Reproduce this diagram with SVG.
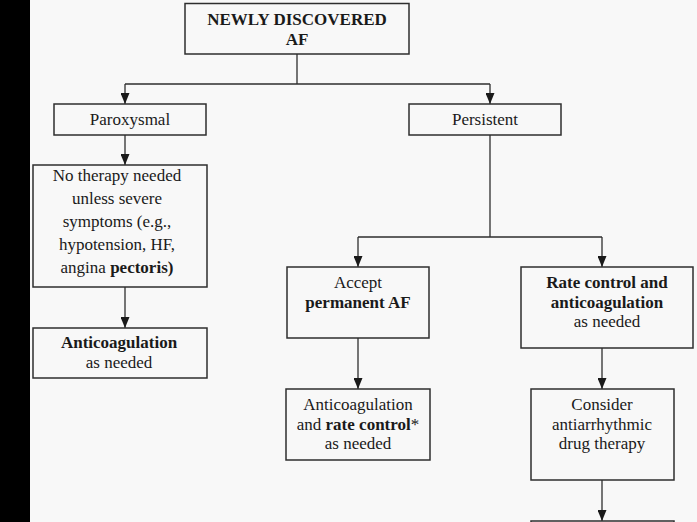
<svg xmlns="http://www.w3.org/2000/svg" width="697" height="522" viewBox="0 0 697 522">
  <style>
    .box { fill: none; stroke: #2e2e2e; stroke-width: 1.5; }
    .t { font-family: 'Liberation Serif', 'DejaVu Serif', serif; font-size: 17px; fill: #1a1a1a; text-anchor: middle; }
    .b { font-weight: bold; }
    .c { fill: none; stroke: #2e2e2e; stroke-width: 1.3; }
  </style>
  <defs>
    <marker id="arr" markerUnits="userSpaceOnUse" markerWidth="11" markerHeight="9" refX="11" refY="4.5" orient="auto">
      <path d="M0,0 L11,4.5 L0,9 Z" fill="#1a1a1a"/>
    </marker>
  </defs>
  <rect x="0" y="0" width="697" height="522" fill="#f8f8f8"/>
  <rect x="0" y="0" width="30" height="522" fill="#000"/>

  <g id="connectors">
    <path class="c" d="M297,54 V84 M125,84 H490"/>
    <path class="c" d="M125,84 V104" marker-end="url(#arr)"/>
    <path class="c" d="M490,84 V104" marker-end="url(#arr)"/>
    <path class="c" d="M125,135 V165" marker-end="url(#arr)"/>
    <path class="c" d="M125,287 V328" marker-end="url(#arr)"/>
    <path class="c" d="M490,135 V237 M358,237 H602"/>
    <path class="c" d="M358,237 V267" marker-end="url(#arr)"/>
    <path class="c" d="M602,237 V267" marker-end="url(#arr)"/>
    <path class="c" d="M358,338 V389" marker-end="url(#arr)"/>
    <path class="c" d="M602,348 V389" marker-end="url(#arr)"/>
    <path class="c" d="M602,480 V521" marker-end="url(#arr)"/>
  </g>

  <g id="newly">
    <rect class="box" x="185" y="3.5" width="224" height="50.5"/>
    <text class="t b" x="297" y="25" font-family="Liberation Serif, serif">NEWLY DISCOVERED</text>
    <text class="t b" x="297" y="45" font-family="Liberation Serif, serif">AF</text>
  </g>

  <g id="paroxysmal">
    <rect class="box" x="54" y="104" width="152" height="31"/>
    <text class="t" x="130" y="125">Paroxysmal</text>
  </g>

  <g id="persistent">
    <rect class="box" x="409" y="104" width="152" height="31"/>
    <text class="t" x="485" y="125">Persistent</text>
  </g>

  <g id="notherapy">
    <rect class="box" x="33" y="165" width="174" height="122"/>
    <text class="t" x="117" y="181">No therapy needed</text>
    <text class="t" x="117" y="204">unless severe</text>
    <text class="t" x="117" y="227">symptoms (e.g.,</text>
    <text class="t" x="117" y="250">hypotension, HF,</text>
    <text class="t" x="117" y="273">angina <tspan class="b">pectoris)</tspan></text>
  </g>

  <g id="anticoag-left">
    <rect class="box" x="33" y="328" width="174" height="50"/>
    <text class="t b" x="119" y="348">Anticoagulation</text>
    <text class="t" x="119" y="368">as needed</text>
  </g>

  <g id="accept">
    <rect class="box" x="287" y="267" width="142" height="71"/>
    <text class="t" x="358" y="288">Accept</text>
    <text class="t b" x="358" y="308">permanent AF</text>
  </g>

  <g id="ratecontrol">
    <rect class="box" x="521" y="267" width="172" height="81"/>
    <text class="t b" x="607" y="288">Rate control and</text>
    <text class="t b" x="607" y="308">anticoagulation</text>
    <text class="t" x="607" y="327">as needed</text>
  </g>

  <g id="anticoag-mid">
    <rect class="box" x="286" y="389" width="144" height="71"/>
    <text class="t" x="358" y="410">Anticoagulation</text>
    <text class="t" x="358" y="430">and <tspan class="b">rate control</tspan>*</text>
    <text class="t" x="358" y="449">as needed</text>
  </g>

  <g id="consider">
    <rect class="box" x="531" y="389" width="143" height="91"/>
    <text class="t" x="602" y="410">Consider</text>
    <text class="t" x="602" y="430">antiarrhythmic</text>
    <text class="t" x="602" y="449">drug therapy</text>
  </g>

  <g id="next">
    <rect class="box" x="531" y="521" width="143" height="20"/>
  </g>
</svg>
